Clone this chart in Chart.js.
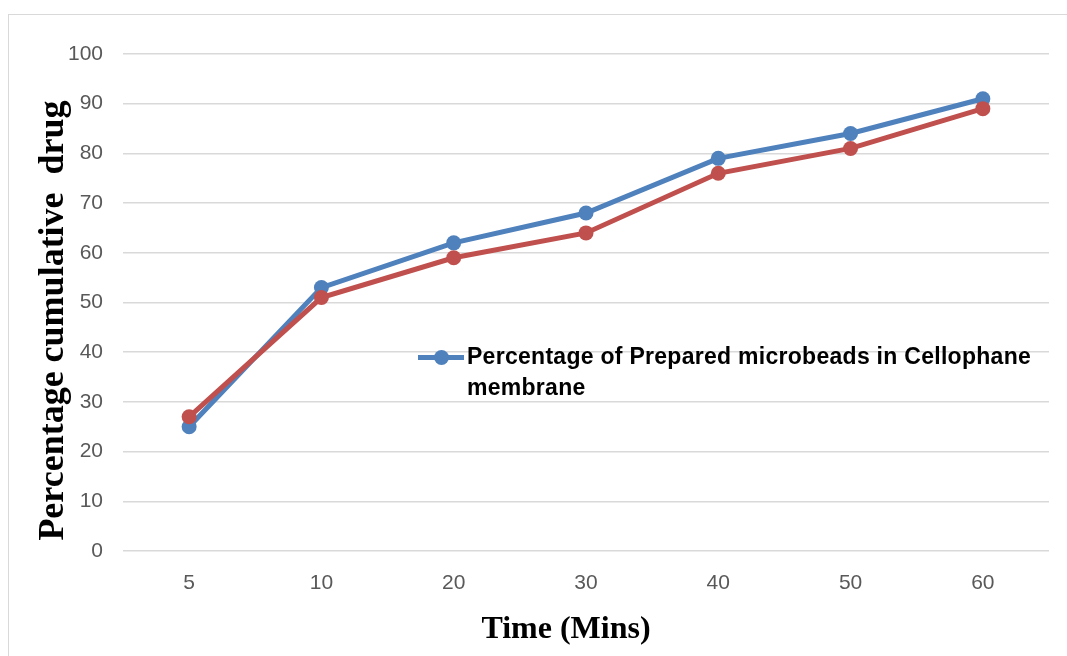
<!DOCTYPE html>
<html>
<head>
<meta charset="utf-8">
<script src="https://cdn.jsdelivr.net/npm/chart.js@4.4.1/dist/chart.umd.min.js"></script>
<style>
  body { margin: 0; background: #fff; overflow: hidden; }
  #wrap { position: relative; width: 1067px; height: 656px; }
  #frame { position: absolute; left: 8px; top: 14px; width: 1080px; height: 660px; border: 1.5px solid #d9d9d9; box-sizing: border-box; }
  #chart1 { position: absolute; left: 0; top: 0; }
  #legend { position: absolute; left: 418px; top: 340px; }
  #legend .swatch { position: absolute; left: 0; top: 15px; width: 46px; height: 5px; background: #4f81bd; }
  #legend .dot { position: absolute; left: 16px; top: 10px; width: 15px; height: 15px; border-radius: 50%; background: #4f81bd; }
  #legend .txt { position: absolute; left: 49px; top: 1px; white-space: nowrap; font: bold 23px "Liberation Sans", Arial, sans-serif; letter-spacing: 0.28px; line-height: 31px; color: #000; }
</style>
</head>
<body>
<div id="wrap">
  <div id="frame"></div>
  <canvas id="chart1" width="1067" height="656"></canvas>
  <div id="legend">
    <div class="swatch"></div><div class="dot"></div>
    <div class="txt">Percentage of Prepared microbeads in Cellophane<br>membrane</div>
  </div>
</div>
<script>
// values
var timeLabels = ["5", "10", "20", "30", "40", "50", "60"];
var preparedBeads = [25, 53, 62, 68, 79, 84, 91];
var secondSeries = [27, 51, 59, 64, 76, 81, 89];

var ctx = document.getElementById('chart1').getContext('2d');

new Chart(ctx, {
  type: 'line',
  data: {
    labels: timeLabels,
    datasets: [{
      label: 'Percentage of Prepared microbeads in Cellophane membrane',
      data: preparedBeads,
      borderColor: '#4f81bd',
      backgroundColor: '#4f81bd',
      borderWidth: 5,
      pointRadius: 7.5,
      pointHoverRadius: 7.5,
      pointBorderWidth: 0,
      order: 1
    }, {
      label: 'series 2',
      data: secondSeries,
      borderColor: '#c0504d',
      backgroundColor: '#c0504d',
      borderWidth: 5,
      pointRadius: 7.5,
      pointHoverRadius: 7.5,
      pointBorderWidth: 0,
      order: 0
    }]
  },
  options: {
    responsive: false,
    animation: false,
    layout: { padding: { top: 54, right: 18, left: 0, bottom: 0 } },
    plugins: {
      legend: { display: false },
      tooltip: { enabled: false }
    },
    scales: {
      x: {
        offset: true,
        afterFit: function(scale) { scale.height = 105; },
        grid: { display: false, drawTicks: false },
        border: { display: false },
        ticks: { color: '#595959', padding: 20, font: { family: 'Liberation Sans', size: 21 } },
        title: {
          display: true,
          // trailing spaces nudge the centred title a bit left, like the original
          text: 'Time (Mins)     ',
          color: '#000',
          padding: { top: 0, bottom: 7 },
          font: { family: 'Liberation Serif', size: 32, weight: 'bold' }
        }
      },
      y: {
        min: 0,
        max: 100,
        afterFit: function(scale) { scale.width = 123; },
        grid: { color: '#d9d9d9', lineWidth: 1.5, drawTicks: false },
        border: { display: false },
        ticks: { stepSize: 10, color: '#595959', padding: 20, font: { family: 'Liberation Sans', size: 21 } },
        title: {
          display: true,
          text: 'Percentage cumulative  drug    ',
          color: '#000',
          padding: { top: 32, bottom: 0 },
          font: { family: 'Liberation Serif', size: 36, weight: 'bold' }
        }
      }
    }
  }
});
</script>
</body>
</html>
